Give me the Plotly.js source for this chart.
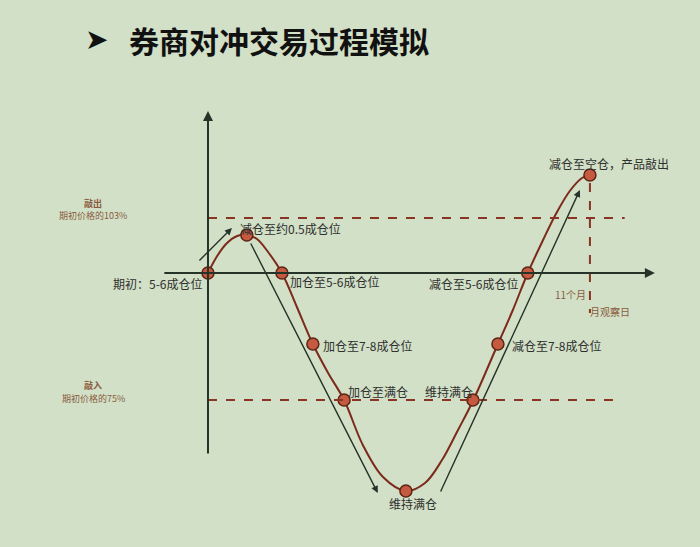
<!DOCTYPE html>
<html>
<head>
<meta charset="utf-8">
<script src="https://cdn.plot.ly/plotly-3.0.1.min.js"></script>
<style>
  html, body { margin: 0; padding: 0; background: #d1e0c6; }
  #chart { width: 700px; height: 547px; }
</style>
</head>
<body>
<div id="chart"></div>
<script>
// Price path (x: months since start, y: schematic price level, 0 = initial price)
var pathMonths = [0, 0.23, 0.52, 0.84, 1.12, 1.41, 1.73, 2.13, 2.56, 3.02, 3.46, 3.92,
                  4.46, 5.04, 5.70, 6.25, 6.74, 7.20, 7.63, 8.35, 8.78, 9.21, 9.65,
                  10.02, 10.42, 10.77, 11.0];
var pathLevel = [0, 1.5, 2.9, 3.7, 3.8, 3.4, 2.1, 0, -3.4, -7.1, -10.0, -12.7,
                 -17.2, -20.4, -21.8, -21.0, -18.7, -15.7, -12.8, -7.1, -3.7, 0, 3.3,
                 5.9, 8.2, 9.5, 9.8];

// Position adjustment points
var stepMonths = [0, 1.12, 2.13, 3.02, 3.92, 5.70, 7.63, 8.35, 9.21, 11.0];
var stepLevel = [0, 3.8, 0, -7.1, -12.7, -21.8, -12.7, -7.1, 0, 9.8];
var stepLabels = [
    "期初：5-6成仓位",
    "减仓至约0.5成仓位",
    "加仓至5-6成仓位",
    "加仓至7-8成仓位",
    "加仓至满仓",
    "维持满仓",
    "维持满仓",
    "减仓至7-8成仓位",
    "减仓至5-6成仓位",
    "减仓至空仓，产品敲出"
];

// Barrier levels
var knockOutLevel = 5.5;   // 期初价格的103%
var knockInLevel = -12.7;  // 期初价格的75%
var lastMonth = 11;

var cjk = "Noto Sans CJK SC, sans-serif";
var axisColor = "#253328";
var barrierColor = "#8a3424";
var noteColor = "#8a5a3e";

// Where each label sits relative to its point
var labelPos = [
    {xanchor: "right", yanchor: "middle", xshift: -3, yshift: -10},
    {xanchor: "left", yanchor: "middle", xshift: -9, yshift: 7},
    {xanchor: "left", yanchor: "middle", xshift: 6, yshift: -8},
    {xanchor: "left", yanchor: "middle", xshift: 8, yshift: -1},
    {xanchor: "left", yanchor: "middle", xshift: 2, yshift: 9},
    {xanchor: "center", yanchor: "middle", xshift: 7, yshift: -12},
    {xanchor: "right", yanchor: "middle", xshift: 2, yshift: 9},
    {xanchor: "left", yanchor: "middle", xshift: 12, yshift: -1},
    {xanchor: "right", yanchor: "middle", xshift: -7, yshift: -10},
    {xanchor: "center", yanchor: "middle", xshift: 19, yshift: 12}
];

var pathTrace = {
    type: "scatter",
    mode: "lines",
    x: pathMonths,
    y: pathLevel,
    line: {color: "#7c2a1b", width: 2, shape: "spline", smoothing: 1},
    hoverinfo: "skip"
};

var stepTrace = {
    type: "scatter",
    mode: "markers",
    x: stepMonths,
    y: stepLevel,
    marker: {size: 12, color: "#c45a40", line: {color: "#5e2416", width: 1.5}},
    hoverinfo: "skip"
};

var annotations = stepLabels.map(function (label, i) {
    return Object.assign({
        x: stepMonths[i],
        y: stepLevel[i],
        text: label,
        showarrow: false,
        font: {family: cjk, size: 12, color: "#2f2f2f"}
    }, labelPos[i]);
});

// Trend arrows
function arrow(x0, y0, x1, y1, w) {
    return {
        x: x1, y: y1, ax: x0, ay: y0,
        xref: "x", yref: "y", axref: "x", ayref: "y",
        text: "", showarrow: true,
        arrowhead: 2, arrowsize: 1, arrowwidth: w, arrowcolor: axisColor
    };
}
annotations.push(arrow(-0.29, 1.1, 0.69, 4.5, 1.4));
annotations.push(arrow(1.21, 3.1, 4.89, -22.0, 1.4));
annotations.push(arrow(6.68, -22.0, 10.71, 8.3, 1.4));
// Axes
annotations.push(arrow(-1.3, 0, 12.87, 0, 2));
annotations.push(arrow(0, -18.2, 0, 16.2, 2));

// Barrier notes (two lines each, kept as separate texts)
function note(text, y, bold) {
    return {
        x: -3.3, y: y, text: bold ? "<b>" + text + "</b>" : text,
        showarrow: false, xanchor: "center", yanchor: "middle",
        font: {family: cjk, size: 9, color: noteColor}
    };
}
annotations.push(note("敲出", knockOutLevel + 1.5, true));
annotations.push(note("期初价格的103%", knockOutLevel + 0.3, false));
annotations.push(note("敲入", knockInLevel + 1.5, true));
annotations.push(note("期初价格的75%", knockInLevel + 0.2, false));

annotations.push({
    x: lastMonth, y: -2.1, text: "11个月", showarrow: false,
    xanchor: "right", xshift: -2,
    font: {family: cjk, size: 10, color: noteColor}
});
annotations.push({
    x: lastMonth, y: -3.8, text: "月观察日", showarrow: false,
    xanchor: "left", xshift: -2,
    font: {family: cjk, size: 10, color: noteColor}
});

// Title
annotations.push({
    xref: "paper", yref: "paper", x: 0.118, y: 0.928,
    text: "➤", showarrow: false, xanchor: "left", yanchor: "middle",
    font: {family: "DejaVu Sans", size: 28, color: "#111"}
});
annotations.push({
    xref: "paper", yref: "paper", x: 0.182, y: 0.927,
    text: "<b>券商对冲交易过程模拟</b>", showarrow: false,
    xanchor: "left", yanchor: "middle",
    font: {family: cjk, size: 30, color: "#111"}
});

var shapes = [
    {type: "line", x0: 0, x1: 12.0, y0: knockOutLevel, y1: knockOutLevel,
     line: {color: barrierColor, width: 2, dash: "dash"}},
    {type: "line", x0: 0, x1: 11.92, y0: knockInLevel, y1: knockInLevel,
     line: {color: barrierColor, width: 2, dash: "dash"}},
    {type: "line", x0: lastMonth, x1: lastMonth, y0: 9.0, y1: -4.0,
     line: {color: barrierColor, width: 2, dash: "dash"}}
];

var layout = {
    width: 700,
    height: 547,
    margin: {l: 0, r: 0, t: 0, b: 0},
    paper_bgcolor: "#d1e0c6",
    plot_bgcolor: "#d1e0c6",
    showlegend: false,
    xaxis: {range: [-5.99, 14.17], visible: false, fixedrange: true},
    yaxis: {range: [-27.4, 27.3], visible: false, fixedrange: true},
    shapes: shapes,
    annotations: annotations
};

Plotly.newPlot("chart", [pathTrace, stepTrace], layout, {staticPlot: true});
</script>
</body>
</html>
